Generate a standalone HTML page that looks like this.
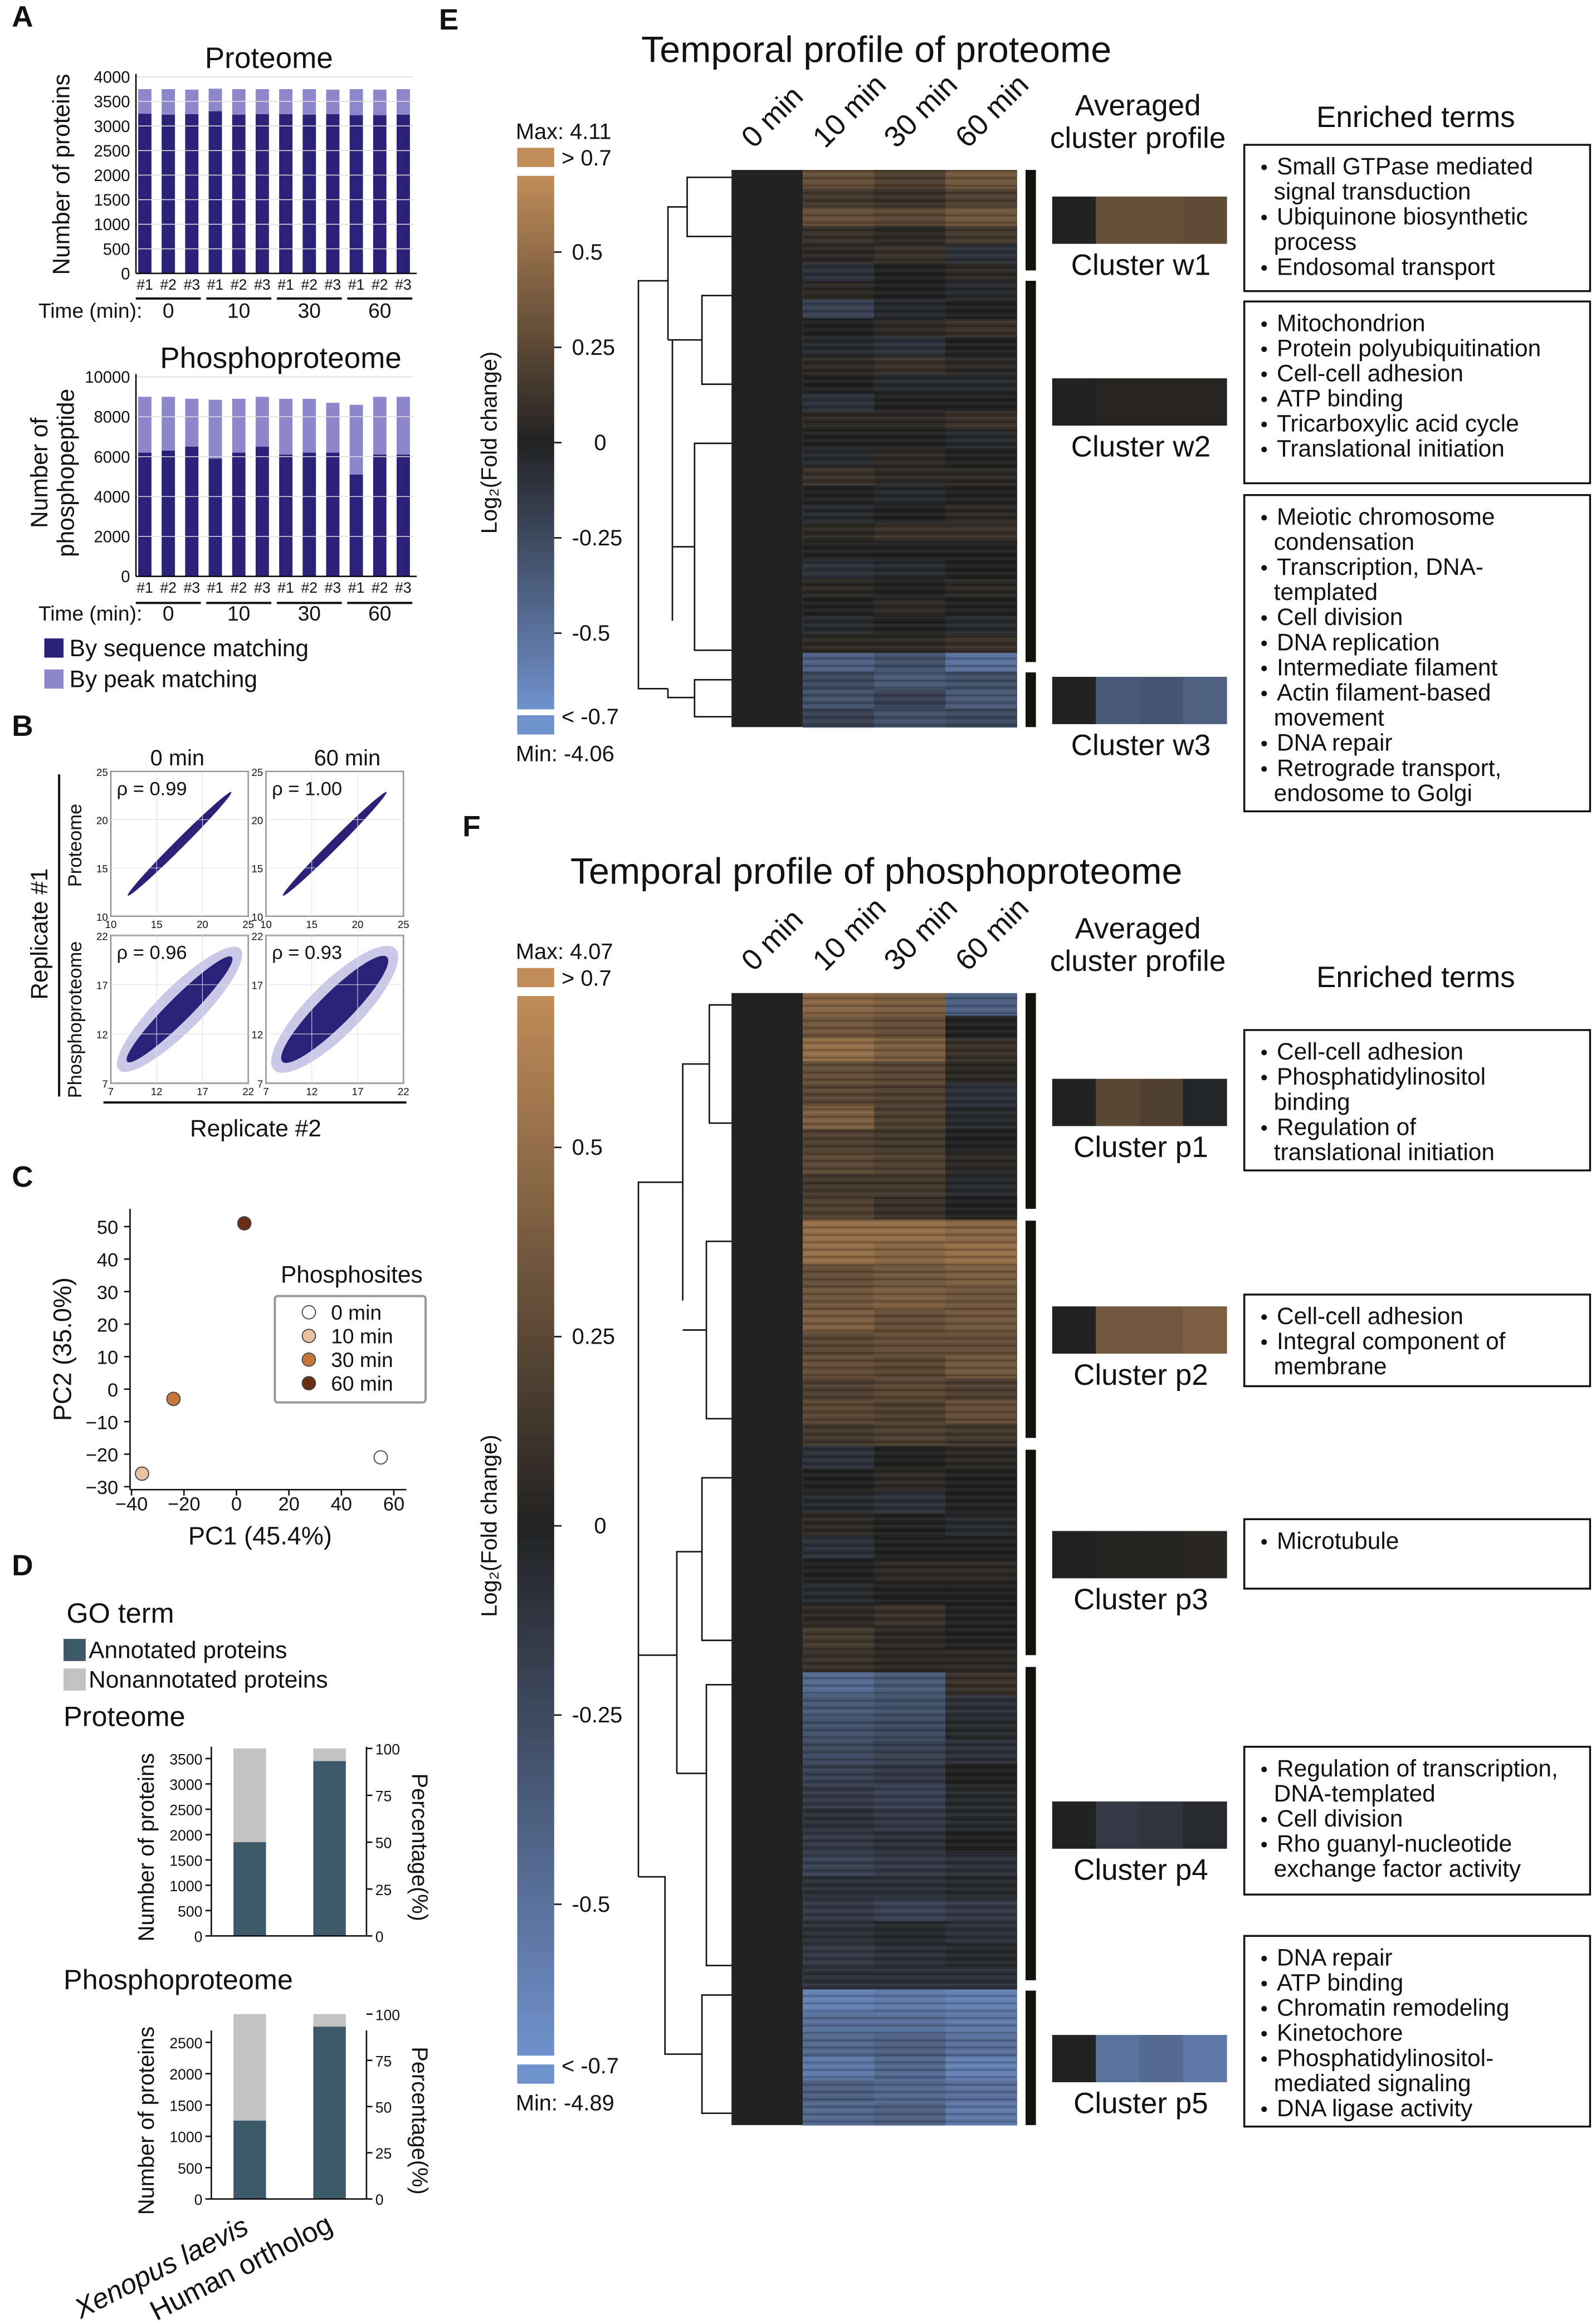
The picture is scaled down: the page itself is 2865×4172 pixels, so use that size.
<!DOCTYPE html>
<html><head><meta charset="utf-8"><style>
html,body{margin:0;padding:0;background:#fff}
svg{display:block;font-family:"Liberation Sans",Arial,sans-serif}
</style></head><body>
<svg id="fig" width="2865" height="4172" viewBox="0 0 1080 1572.6" preserveAspectRatio="none" xmlns="http://www.w3.org/2000/svg">
<defs>
<linearGradient id="cbar" x1="0" y1="0" x2="0" y2="1">
<stop offset="0" stop-color="#c08c58"/><stop offset="0.5" stop-color="#222"/><stop offset="1" stop-color="#6f91cc"/>
</linearGradient>
<pattern id="stripes" width="10" height="5" patternUnits="userSpaceOnUse">
<rect width="10" height="1.2" fill="#000" opacity="0.22"/><rect y="2.6" width="10" height="0.8" fill="#fff" opacity="0.06"/>
</pattern>
</defs>
<g id="root"></g>
</svg>
<script>
// ---------- DATA ----------
const protSeq=[3250,3230,3240,3300,3230,3240,3240,3230,3240,3220,3220,3230];
const protTotal=[3750,3750,3740,3760,3750,3750,3750,3750,3740,3750,3740,3750];
const phosSeq=[6200,6300,6500,5900,6200,6500,6100,6200,6200,5100,6100,6100];
const phosTotal=[9000,9000,8900,8850,8900,9000,8900,8900,8700,8600,9000,9000];
const repLabels=['#1','#2','#3','#1','#2','#3','#1','#2','#3','#1','#2','#3'];
const timeLabels=['0','10','30','60'];
const protTicks=[0,500,1000,1500,2000,2500,3000,3500,4000];
const phosTicks=[0,2000,4000,6000,8000,10000];
const rhoLabels=['ρ = 0.99','ρ = 1.00','ρ = 0.96','ρ = 0.93'];
const pcaX=[-36,-24,3,55];
const pcaY=[-26,-3,51,-21];
const pcaColors=['#e9c2a2','#c7763a','#6a2e16','#ffffff'];
const pcaNames=['0 min','10 min','30 min','60 min'];
const pcaLegendColors=['#ffffff','#e9c2a2','#c7763a','#6a2e16'];
const pcXTicks=[-40,-20,0,20,40,60];
const pcYTicks=[-30,-20,-10,0,10,20,30,40,50];
const goProtTotal=[3700,3700];
const goProtAnn=[1850,3450];
const goPhosTotal=[2950,2950];
const goPhosAnn=[1250,2750];
const goProtTicks=[0,500,1000,1500,2000,2500,3000,3500];
const goPhosTicks=[0,500,1000,1500,2000,2500];
const pctTicks=[0,25,50,75,100];
const heatE=[[0.3,0.2,0.35],[0.15,0.1,0.2],[0.3,0.25,0.35],[0.1,0.05,0.15],[0.05,0.1,-0.1],
[-0.1,0,0.05],[0.05,0,-0.05],[-0.2,-0.05,0],[0,0.05,0.1],[-0.05,-0.1,0],[0.05,0.1,0.05],[0,-0.05,-0.05],[-0.1,0,0],[0.05,0.05,0.1],[0,0,-0.05],[-0.05,0.05,0],[0.1,0.05,0.05],[0,-0.05,0],[-0.05,0,0.05],[0.05,0.1,0.1],[0,0,0],[-0.1,-0.05,0],[0.05,0,0.05],[0,0.05,0],[-0.05,0,-0.05],[0.05,0.05,0.1],
[-0.4,-0.3,-0.5],[-0.25,-0.35,-0.3],[-0.3,-0.2,-0.35],[-0.2,-0.3,-0.25]];
const heatF=[[0.45,0.4,-0.4],[0.35,0.3,0.0],[0.5,0.4,0.1],[0.3,0.25,0.05],[0.25,0.2,-0.1],[0.4,0.2,-0.05],[0.2,0.15,0.0],[0.25,0.2,0.05],[0.15,0.15,-0.05],[0.2,0.1,0.0],
[0.5,0.5,0.45],[0.5,0.45,0.5],[0.3,0.35,0.4],[0.35,0.4,0.35],[0.4,0.3,0.35],[0.25,0.3,0.3],[0.3,0.25,0.35],[0.2,0.25,0.2],[0.25,0.2,0.3],[0.15,0.2,0.15],
[-0.1,0,0.05],[0,0.05,0],[-0.05,-0.1,0],[0.05,0,-0.05],[-0.1,0,0],[0,0.05,0.05],[-0.05,0,0],[0.05,0.1,0],[0.15,0.05,0],[0.1,0.05,0.05],
[-0.45,-0.35,0.1],[-0.35,-0.3,-0.1],[-0.3,-0.25,-0.05],[-0.25,-0.2,-0.1],[-0.2,-0.15,0],[-0.15,-0.2,-0.05],[-0.1,-0.15,-0.05],[-0.15,-0.1,0],[-0.2,-0.15,-0.1],[-0.1,-0.1,-0.05],[-0.15,-0.2,-0.15],[-0.1,-0.05,-0.1],[-0.15,-0.1,-0.05],[-0.1,-0.1,-0.1],
[-0.6,-0.55,-0.6],[-0.5,-0.5,-0.55],[-0.45,-0.4,-0.5],[-0.55,-0.45,-0.6],[-0.4,-0.45,-0.5],[-0.45,-0.4,-0.55]];
const profE=[[0,0.3,0.3,0.28],[0,0.02,0.02,0.02],[0,-0.35,-0.33,-0.4]];
const profF=[[0,0.25,0.2,-0.02],[0,0.35,0.35,0.4],[0,0.01,0.01,0.03],[0,-0.15,-0.12,-0.05],[0,-0.5,-0.45,-0.55]];
const colLabels=['0 min','10 min','30 min','60 min'];

// ---------- helpers ----------
const NS='http://www.w3.org/2000/svg';
const root=document.getElementById('root');
function el(tag,attrs,parent,txt){const e=document.createElementNS(NS,tag);for(const k in attrs)e.setAttribute(k,attrs[k]);if(txt!==undefined)e.textContent=txt;(parent||root).appendChild(e);return e;}
function T(x,y,s,size,anchor,extra){const a={x:x,y:y,'font-size':size||14,'text-anchor':anchor||'start',fill:'#111'};if(extra)for(const k in extra)a[k]=extra[k];const t=el('text',a,null,s);return t;}
function L(x1,y1,x2,y2,w,c){const l=el('line',{x1,y1,x2,y2,stroke:c||'#111','stroke-width':w||1});return l;}
function col(v){v=Math.max(-0.7,Math.min(0.7,v));const t=Math.abs(v)/0.7;const b=[34,34,34];const e=v>=0?[192,140,88]:[111,145,204];const c=b.map((q,i)=>Math.round(q+(e[i]-q)*t));return `rgb(${c[0]},${c[1]},${c[2]})`;}

// panel letters
[['A',8,18],['B',8,498],['C',8,803],['D',8,1066],['E',297,20],['F',313,566]].forEach(p=>{const t=T(p[1],p[2],p[0],20,'start',{'font-weight':'bold'});});

// ---------- Panel A ----------
function barChart(y0,y1,maxV,ticks,seq,tot,title,ty,name){
 const g=el('g',{});
 const ys=v=>y0-(v/maxV)*(y0-y1);
 ticks.forEach(t=>{L(92,ys(t),280,ys(t),0.6,'#ddd');const tx=T(88,ys(t)+4,String(t),11,'end');});
 L(92,y1-2,92,y0,1);L(92,y0,282,y0,1);
 seq.forEach((v,i)=>{const cx=98+i*15.9;
  const r1=el('rect',{x:cx-4.5,y:ys(tot[i]),width:9,height:ys(v)-ys(tot[i]),fill:'#8f87cc'},g);
  const r2=el('rect',{x:cx-4.5,y:ys(v),width:9,height:y0-ys(v),fill:'#2b2178'},g);
  T(cx,y0+11,repLabels[i],10,'middle');});
 const tt=T(ty,y1-6,title,20,'middle');
}
barChart(185,52,4000,protTicks,protSeq,protTotal,'Proteome',182,'proteome-bar-chart');
barChart(390,255,10000,phosTicks,phosSeq,phosTotal,'Phosphoproteome',190,'phosphoproteome-bar-chart');
[[202,'Time (min):',215],[408,'Time (min):',420]].forEach(r=>{T(26,r[2],r[1],14);for(let k=0;k<4;k++){const cx=98+(3*k+1)*15.9;L(cx-22,r[0],cx+22,r[0],1.5);T(cx,r[2],timeLabels[k],14,'middle');}});
T(47,118,'Number of proteins',16,'middle',{transform:'rotate(-90 47 118)'});
T(32,320,'Number of',16,'middle',{transform:'rotate(-90 32 320)'});
T(50,320,'phosphopeptide',16,'middle',{transform:'rotate(-90 50 320)'});
[['#2b2178','By sequence matching',444],['#8f87cc','By peak matching',465]].forEach(r=>{const s=el('rect',{x:30,y:r[2]-12,width:13,height:13,fill:r[0]});T(47,r[2],r[1],16);});

// ---------- Panel B ----------
const boxes=[[75,522,168,620,10,25],[180,522,273,620,10,25],[75,633,168,733,7,22],[180,633,273,733,7,22]];
const bTicksP=[10,15,20,25], bTicksPh=[7,12,17,22];
boxes.forEach((b,i)=>{
 const g=el('g',{});
 const [x0,y0,x1,y1,mn,mx]=b;const sx=v=>x0+(v-mn)/(mx-mn)*(x1-x0);const sy=v=>y1-(v-mn)/(mx-mn)*(y1-y0);
 const tk=i<2?bTicksP:bTicksPh;
 tk.forEach(t=>{L(sx(t),y0,sx(t),y1,0.4,'#ddd');L(x0,sy(t),x1,sy(t),0.4,'#ddd');T(sx(t),y1+8,String(t),7,'middle');T(x0-2,sy(t)+3,String(t),7,'end');});
 const c1=i<2?[12,12]:[9,9],c2=i<2?[23,23]:[20,20];
 const mx2=(sx(c1[0])+sx(c2[0]))/2,my2=(sy(c1[1])+sy(c2[1]))/2;const len=Math.hypot(sx(c2[0])-sx(c1[0]),sy(c2[1])-sy(c1[1]))/2;
 const wid=i<2?3:(i==2?8:11);
 if(i>=2)el('ellipse',{cx:mx2,cy:my2,rx:len+8,ry:wid+7,fill:'#8f87cc',opacity:0.45,transform:`rotate(-45 ${mx2} ${my2})`},g);
 el('ellipse',{cx:mx2,cy:my2,rx:len,ry:wid,fill:'#2b2178',transform:`rotate(-45 ${mx2} ${my2})`},g);
 el('rect',{x:x0,y:y0,width:x1-x0,height:y1-y0,fill:'none',stroke:'#222','stroke-width':0.8},g);
 T(x0+4,y0+16,rhoLabels[i],13);
});
T(120,518,'0 min',15,'middle');T(235,518,'60 min',15,'middle');
T(55,572,'Proteome',13,'middle',{transform:'rotate(-90 55 572)'});
T(55,690,'Phosphoproteome',13,'middle',{transform:'rotate(-90 55 690)'});
T(32,632,'Replicate #1',16,'middle',{transform:'rotate(-90 32 632)'});
L(40,524,40,742,1.5);L(70,746,275,746,1.5);
T(173,769,'Replicate #2',16,'middle');

// ---------- Panel C ----------
{const px=v=>160+v*1.775, py=v=>940-v*2.2;
 const g=el('g',{});
 L(88,818,88,1008,1);L(88,1008,275,1008,1);
 pcXTicks.forEach(t=>{L(px(t),1008,px(t),1012,1);T(px(t),1022,t<0?'\u2212'+(-t):String(t),13,'middle');});
 pcYTicks.forEach(t=>{L(84,py(t),88,py(t),1);T(80,py(t)+5,t<0?'\u2212'+(-t):String(t),13,'end');});
 pcaX.forEach((v,i)=>{const c=el('circle',{cx:px(v),cy:py(pcaY[i]),r:4.5,fill:pcaColors[i],stroke:'#444','stroke-width':0.7},g);});
 T(238,868,'Phosphosites',16,'middle');
 el('rect',{x:186,y:877,width:102,height:72,fill:'#fff',stroke:'#999','stroke-width':1.5,rx:2});
 pcaNames.forEach((n,i)=>{el('circle',{cx:209,cy:888+i*16,r:4.5,fill:pcaLegendColors[i],stroke:'#444','stroke-width':0.7});T(224,893+i*16,n,14);});
 T(176,1045,'PC1 (45.4%)',17,'middle');
 T(48,913,'PC2 (35.0%)',17,'middle',{transform:'rotate(-90 48 913)'});
}

// ---------- Panel D ----------
T(45,1098,'GO term',19);
el('rect',{x:43,y:1109,width:15,height:15,fill:'#3d5868'});T(60,1122,'Annotated proteins',16);
el('rect',{x:43,y:1129,width:15,height:15,fill:'#c2c2c2'});T(60,1142,'Nonannotated proteins',16);
function goChart(y0,y1,maxV,ticks,tot,ann,title,tyT,name){
 const g=el('g',{});
 T(43,tyT,title,19);
 const ys=v=>y0-v/maxV*(y0-y1);
 L(143,y1-8,143,y0,1);L(248,y1-8,248,y0,1);L(143,y0,248,y0,1);
 ticks.forEach(t=>{L(139,ys(t),143,ys(t),1);T(137,ys(t)+4,String(t),10,'end');});
 const pTop=ys(tot[0]);
 pctTicks.forEach(p=>{const yy=y0-p/100*(y0-pTop);L(248,yy,252,yy,1);T(254,yy+4,String(p),10);});
 [158,212].forEach((x,i)=>{el('rect',{x:x,y:ys(tot[i]),width:22,height:ys(ann[i])-ys(tot[i]),fill:'#c2c2c2'},g);el('rect',{x:x,y:ys(ann[i]),width:22,height:y0-ys(ann[i]),fill:'#3d5868'},g);});
 const cy=(y0+y1)/2;T(104,cy,'Number of proteins',15,'middle',{transform:`rotate(-90 104 ${cy})`});
 T(279,cy,'Percentage(%)',15,'middle',{transform:`rotate(90 279 ${cy})`});
}
goChart(1310,1190,3500,goProtTicks,goProtTotal,goProtAnn,'Proteome',1168,'go-proteome-chart');
goChart(1488,1382,2500,goPhosTicks,goPhosTotal,goPhosAnn,'Phosphoproteome',1346,'go-phosphoproteome-chart');
T(112,1540,'Xenopus laevis',19,'middle',{transform:'rotate(-27 112 1540)','font-style':'italic'});
T(166,1540,'Human ortholog',19,'middle',{transform:'rotate(-27 166 1540)'});

// ---------- Panels E / F ----------
function heatPanel(o){
 T(593,o.titleY,o.title,25,'middle');
 el('rect',{x:350,y:o.cbTop,width:25,height:13,fill:'#c08c58'});
 el('rect',{x:350,y:o.cbG0,width:25,height:o.cbG1-o.cbG0,fill:'url(#cbar)'});
 el('rect',{x:350,y:o.cbBot,width:25,height:13,fill:'#6f91cc'});
 T(349,o.cbTop-6,o.max,15);T(380,o.cbTop+12,'> 0.7',15);
 T(380,o.cbBot+6,'< -0.7',15);T(349,o.cbBot+31,o.min,15);
 o.ticks.forEach(t=>{const yy=o.cbG0+(0.7-t)/1.4*(o.cbG1-o.cbG0);L(375,yy,380,yy,1);T(t==0?402:387,yy+5,String(t),15);});
 const ly=(o.cbG0+o.cbG1)/2;T(336,ly,'Log\u2082(Fold change)',15,'middle',{transform:`rotate(-90 336 ${ly})`});
 const g=el('g',{});
 const rh=(o.hy1-o.hy0)/o.data.length;const cw=(688-495)/4;
 el('rect',{x:495,y:o.hy0,width:cw,height:o.hy1-o.hy0,fill:'#222'},g);
 o.data.forEach((r,i)=>r.forEach((v,j)=>{const c=el('rect',{x:495+cw*(j+1),y:o.hy0+i*rh,width:cw+0.3,height:rh+0.3,fill:col(v)},g);}));
 el('rect',{x:495+cw,y:o.hy0,width:cw*3,height:o.hy1-o.hy0,fill:'url(#stripes)'},g);
 colLabels.forEach((c,j)=>{const x=510+cw*j,y=o.hy0-14;T(x,y,c,20,'start',{transform:`rotate(-45 ${x} ${y})`});});
 const d=el('path',{d:o.dendro,fill:'none',stroke:'#111','stroke-width':1});
 T(770,o.hy0-37,'Averaged',20,'middle');T(770,o.hy0-15,'cluster profile',20,'middle');
 T(958,o.etY,'Enriched terms',20,'middle');
 o.clusters.forEach((c,k)=>{
  el('rect',{x:694,y:c[0],width:7,height:c[1]-c[0],fill:'#15110d'});
  const pg=el('g',{});
  o.prof[k].forEach((v,j)=>el('rect',{x:712+j*29.5,y:c[2],width:29.8,height:32,fill:col(v)},pg));
  T(772,c[2]+53,'Cluster '+o.cn[k],20,'middle');
 });
 o.terms.forEach(tb=>{const b=el('rect',{x:842,y:tb[0],width:234,height:tb[1]-tb[0],fill:'#fff',stroke:'#111','stroke-width':1.3});
  tb[2].forEach((line,i)=>{const y=tb[0]+20+i*17;if(line[0]=='*'){T(853,y,'\u2022',14);T(864,y,line.slice(1),16);}else T(862,y,line,16);});});
}
heatPanel({title:'Temporal profile of proteome',titleY:42,cbTop:100,cbG0:119,cbG1:480,cbBot:484,max:'Max: 4.11',min:'Min: -4.06',ticks:[0.5,0.25,0,-0.25,-0.5],
 name:'proteome-heatmap',data:heatE,hy0:115,hy1:492,etY:86,
 dendro:'M495,120 H465 V160 H495 M465,140 H452 V230 M495,200 H475 V260 H495 M475,230 H452 M452,190 H432 V466 H452 M495,300 H470 V440 H495 M470,370 H455 M455,230 V420 M495,460 H470 V485 H495 M470,472 H452 V466',
 clusters:[[115,183,133],[190,448,256],[455,492,458]],cn:['w1','w2','w3'],prof:profE,
 terms:[[98,197,['*Small GTPase mediated','signal transduction','*Ubiquinone biosynthetic','process','*Endosomal transport']],
  [204,327,['*Mitochondrion','*Protein polyubiquitination','*Cell-cell adhesion','*ATP binding','*Tricarboxylic acid cycle','*Translational initiation']],
  [335,549,['*Meiotic chromosome','condensation','*Transcription, DNA-','templated','*Cell division','*DNA replication','*Intermediate filament','*Actin filament-based','movement','*DNA repair','*Retrograde transport,','endosome to Golgi']]]});
heatPanel({title:'Temporal profile of phosphoproteome',titleY:598,cbTop:655,cbG0:674,cbG1:1391,cbBot:1397,max:'Max: 4.07',min:'Min: -4.89',ticks:[0.5,0.25,0,-0.25,-0.5],
 name:'phosphoproteome-heatmap',data:heatF,hy0:672,hy1:1438,etY:668,
 dendro:'M495,680 H480 V760 H495 M480,720 H462 V880 M495,840 H478 V960 H495 M478,900 H462 M462,800 H432 V1270 M495,1000 H475 V1110 H495 M475,1050 H458 V1200 M495,1140 H478 V1330 H495 M478,1200 H458 M458,1120 H432 M495,1350 H475 V1430 H495 M475,1390 H450 V1270 H432',
 clusters:[[672,818,730],[826,973,884],[981,1120,1036],[1128,1340,1219],[1347,1438,1377]],cn:['p1','p2','p3','p4','p5'],prof:profF,
 terms:[[697,792,['*Cell-cell adhesion','*Phosphatidylinositol','binding','*Regulation of','translational initiation']],
  [876,938,['*Cell-cell adhesion','*Integral component of','membrane']],
  [1028,1075,['*Microtubule']],
  [1182,1282,['*Regulation of transcription,','DNA-templated','*Cell division','*Rho guanyl-nucleotide','exchange factor activity']],
  [1310,1439,['*DNA repair','*ATP binding','*Chromatin remodeling','*Kinetochore','*Phosphatidylinositol-','mediated signaling','*DNA ligase activity']]]});
</script>
</body></html>
